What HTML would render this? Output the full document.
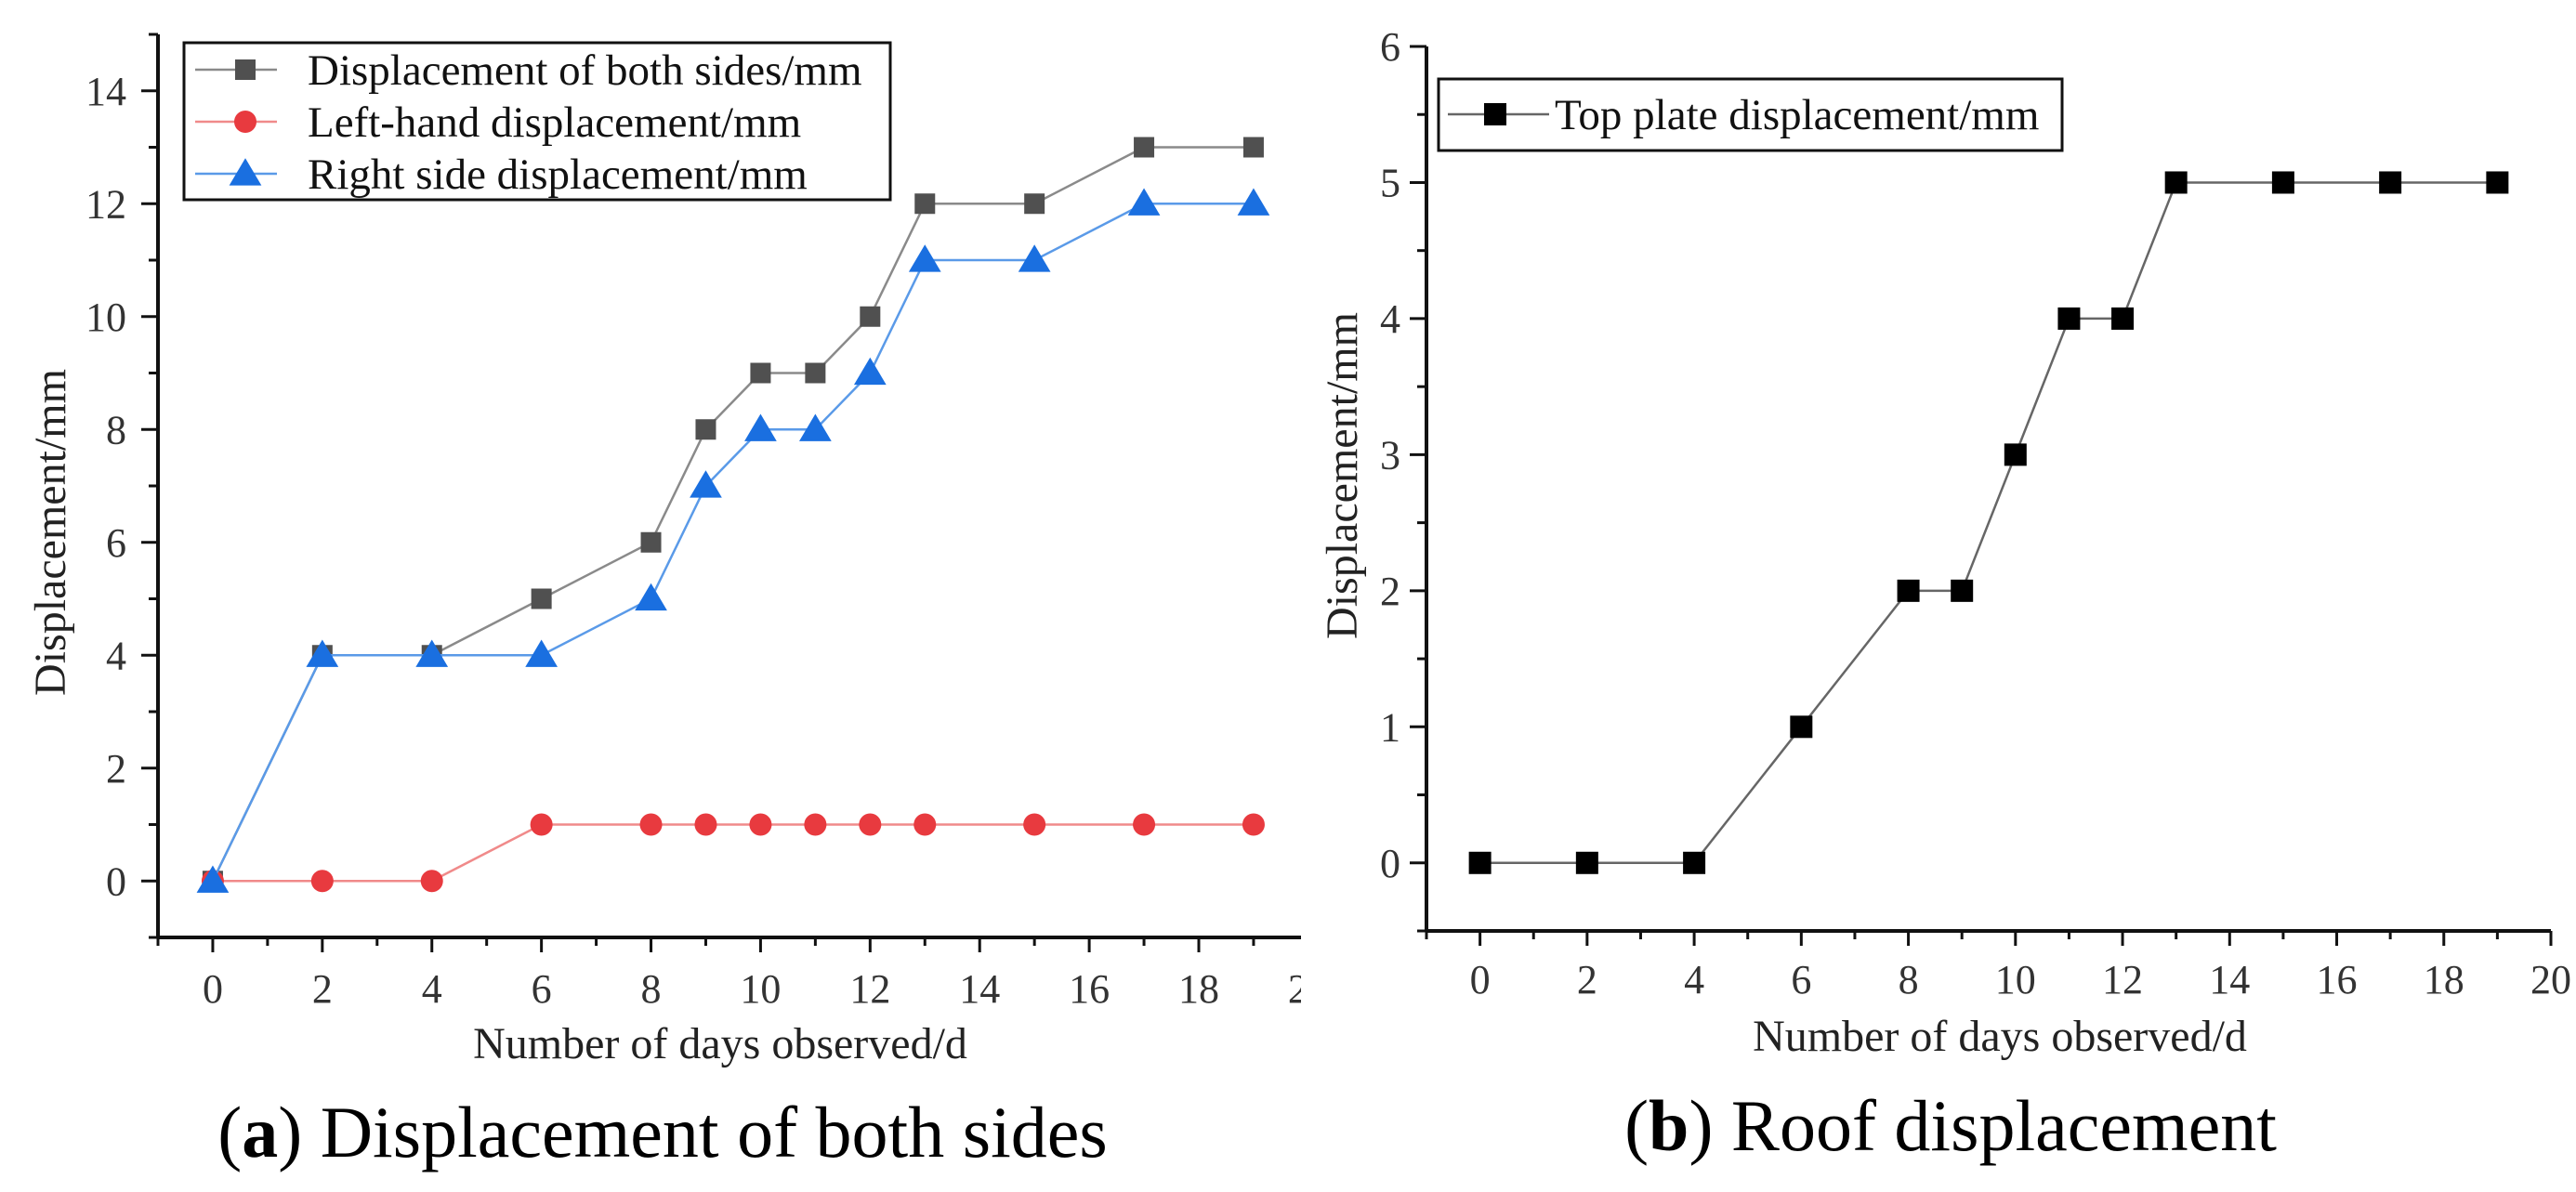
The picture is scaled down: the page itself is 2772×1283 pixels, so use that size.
<!DOCTYPE html>
<html><head><meta charset="utf-8"><style>
html,body{margin:0;padding:0;background:#fff;}
svg{display:block;font-family:"Liberation Serif",serif;}
</style></head><body>
<svg id="s" width="2772" height="1283" viewBox="0 0 2772 1283">
<defs><clipPath id="cl"><rect x="0" y="0" width="1400" height="1283"/></clipPath></defs>
<g id="left" clip-path="url(#cl)"></g>
<g id="right"></g>
<text x="713" y="1245" font-size="78" text-anchor="middle" fill="#000">(<tspan font-weight="bold">a</tspan>) Displacement of both sides</text>
<text x="2099" y="1238" font-size="78" text-anchor="middle" fill="#000">(<tspan font-weight="bold">b</tspan>) Roof displacement</text>
</svg>
<script>
const days = [0,2,4,6,8,9,10,11,12,13,15,17,19];
const bothSides = [0,4,4,5,6,8,9,9,10,12,12,13,13];
const leftHand = [0,0,0,1,1,1,1,1,1,1,1,1,1];
const rightSide = [0,4,4,4,5,7,8,8,9,11,11,12,12];
const roof = [0,0,0,1,2,2,3,4,4,5,5,5,5];
const xTicksA = [0,2,4,6,8,10,12,14,16,18,20];
const yTicksA = [0,2,4,6,8,10,12,14];
const xTicksB = [0,2,4,6,8,10,12,14,16,18,20];
const yTicksB = [0,1,2,3,4,5,6];

const NS="http://www.w3.org/2000/svg";
function mk(parent,tag,attrs,text){const e=document.createElementNS(NS,tag);for(const k in attrs)e.setAttribute(k,attrs[k]);if(text!==undefined)e.textContent=text;parent.appendChild(e);return e;}

function chart(g,cfg){
  const X=v=>cfg.x0+(v-cfg.xmin)*(cfg.x1-cfg.x0)/(cfg.xmax-cfg.xmin);
  const Y=v=>cfg.y0-(v-cfg.ymin)*(cfg.y0-cfg.y1)/(cfg.ymax-cfg.ymin);
  let a=mk(g,'line',{x1:cfg.x0,y1:cfg.y0,x2:cfg.x1,y2:cfg.y0,stroke:'#111','stroke-width':4});
  
  
  a=mk(g,'line',{x1:cfg.x0,y1:cfg.y0,x2:cfg.x0,y2:cfg.y1,stroke:'#111','stroke-width':4});
  
  
  for(let v=Math.ceil(cfg.xmin);v<=cfg.xmax;v+=1){
    const major=cfg.xt.includes(v);
    mk(g,'line',{x1:X(v),y1:cfg.y0,x2:X(v),y2:cfg.y0+(major?16:9),stroke:'#111','stroke-width':3});
  }
  cfg.xt.forEach(v=>{
    const t=mk(g,'text',{x:X(v),y:cfg.xly,'font-size':44,'text-anchor':'middle',fill:'#333'},String(v));
    
    
  });
  for(let v=cfg.ymin;v<=cfg.ymax+1e-9;v+=cfg.yminor){
    const major=cfg.yt.some(t=>Math.abs(t-v)<1e-6);
    mk(g,'line',{x1:cfg.x0,y1:Y(v),x2:cfg.x0-(major?18:10),y2:Y(v),stroke:'#111','stroke-width':3});
  }
  cfg.yt.forEach(v=>{
    const t=mk(g,'text',{x:cfg.x0-cfg.ylo,y:Y(v)+15,'font-size':44,'text-anchor':'end',fill:'#333'},String(v));
    
    
  });
  let t=mk(g,'text',{x:cfg.xtx,y:cfg.xty,'font-size':48,'text-anchor':'middle',fill:'#222'},'Number of days observed/d');
  
  
  t=mk(g,'text',{x:0,y:0,'font-size':48,'text-anchor':'middle',fill:'#222',transform:`translate(${cfg.ytx},${cfg.yty}) rotate(-90)`},'Displacement/mm');
  
  
  return {X,Y};
}
function marker(g,type,cx,cy,fill,sz){
  let m;
  if(type==='sq') m=mk(g,'rect',{x:cx-sz/2,y:cy-sz/2,width:sz,height:sz,fill:fill});
  else if(type==='ci') m=mk(g,'circle',{cx:cx,cy:cy,r:sz/2,fill:fill});
  else m=mk(g,'polygon',{points:`${cx},${cy-sz*0.6} ${cx-sz*0.62},${cy+sz*0.45} ${cx+sz*0.62},${cy+sz*0.45}`,fill:fill});
  return m;
}
function series(g,ax,xs,ys,line,fill,type,sz,name){
  const sg=mk(g,'g',{});
  
  
  mk(sg,'polyline',{points:xs.map((x,i)=>ax.X(x)+','+ax.Y(ys[i])).join(' '),fill:'none',stroke:line,'stroke-width':2.5});
  xs.forEach((x,i)=>{const m=marker(sg,type,ax.X(x),ax.Y(ys[i]),fill,sz);
    
    });
}
const L=document.getElementById('left'), R=document.getElementById('right');
const axA=chart(L,{x0:170,x1:1402,xmin:-1,xmax:19.9,y0:1009,y1:37,ymin:-1,ymax:15,xt:xTicksA,yt:yTicksA,yminor:1,ylo:34,xly:1079,xtx:775,xty:1139,ytx:70,yty:573});
const axB=chart(R,{x0:1535,x1:2745,xmin:-1,xmax:20,y0:1002,y1:50,ymin:-0.5,ymax:6,xt:xTicksB,yt:yTicksB,yminor:0.5,ylo:28,xly:1069,xtx:2152,xty:1131,ytx:1460,yty:512});
series(L,axA,days,bothSides,'#8a8a8a','#505050','sq',22,'series-both-sides');
series(L,axA,days,leftHand,'#f08a8a','#e83a3f','ci',24,'series-left-hand');
series(L,axA,days,rightSide,'#5a9ae8','#1a6fe0','tr',28,'series-right-side');
series(R,axB,days,roof,'#666','#000','sq',24,'series-top-plate');
const lgA=mk(L,'g',{});


mk(lgA,'rect',{x:198,y:46,width:760,height:169,fill:'#fff',stroke:'#111','stroke-width':3});
[['Displacement of both sides/mm','#8a8a8a','#505050','sq',22,75],['Left-hand displacement/mm','#f08a8a','#e83a3f','ci',24,131],['Right side displacement/mm','#5a9ae8','#1a6fe0','tr',28,187]].forEach(e=>{
  const eg=mk(lgA,'g',{});
  
  
  mk(eg,'line',{x1:210,y1:e[5],x2:298,y2:e[5],stroke:e[1],'stroke-width':2.5});
  marker(eg,e[3],264,e[5],e[2],e[4]);
  mk(eg,'text',{x:331,y:e[5]+16,'font-size':47,fill:'#111'},e[0]);
});
const lgB=mk(R,'g',{});


mk(lgB,'rect',{x:1548,y:85,width:671,height:77,fill:'#fff',stroke:'#111','stroke-width':3});
mk(lgB,'line',{x1:1558,y1:123,x2:1667,y2:123,stroke:'#666','stroke-width':2.5});
marker(lgB,'sq',1609,123,'#000',24);
mk(lgB,'text',{x:1673,y:139,'font-size':47,fill:'#111'},'Top plate displacement/mm');
</script>
</body></html>
